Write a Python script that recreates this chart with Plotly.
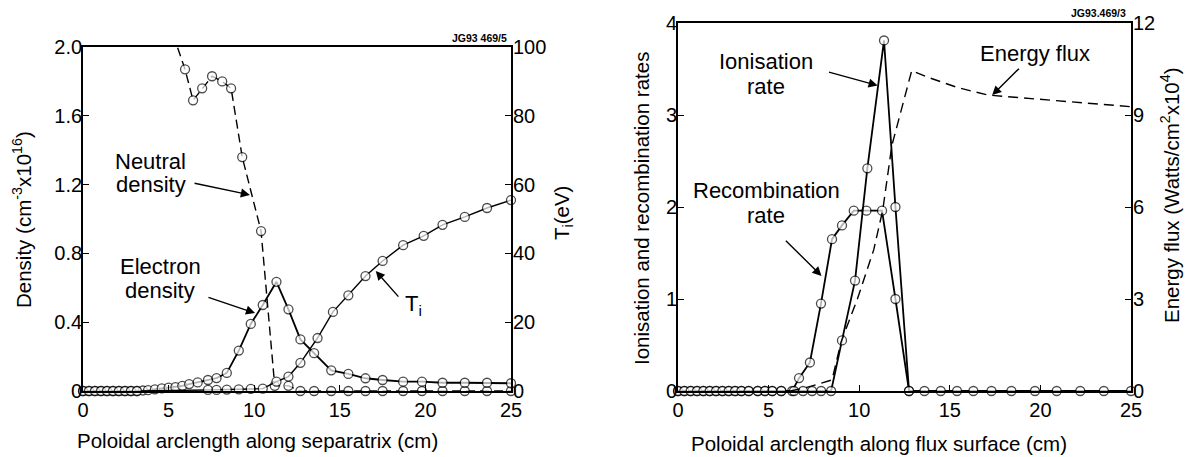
import plotly.graph_objects as go

# ---------------- Left panel data ----------------
ne_x = [0, 0.35, 0.7, 1.05, 1.4, 1.75, 2.1, 2.45, 2.8, 3.15, 3.5, 3.8, 4.2, 4.6, 5.0, 5.4, 5.8, 6.2, 6.7,
        7.3, 7.8, 8.4, 9.1, 9.8, 10.5, 11.3, 12.0, 12.7, 13.5, 14.5, 15.5, 16.5, 17.5, 18.7, 19.8, 21.0,
        22.3, 23.6, 25.0]
ne_y = [0, 0, 0, 0, 0, 0, 0, 0, 0, 0, 0.003, 0.005, 0.01, 0.015, 0.02, 0.022, 0.03, 0.04, 0.05,
        0.064, 0.075, 0.105, 0.235, 0.39, 0.50, 0.635, 0.475, 0.30, 0.22, 0.12, 0.099, 0.074, 0.064,
        0.054, 0.054, 0.048, 0.048, 0.048, 0.045]

nn_x = [5.0, 5.96, 6.43, 6.96, 7.54, 8.13, 8.65, 9.3, 10.4, 11.2, 12.0, 12.7, 13.5, 14.5, 15.5, 16.5,
        17.5, 18.7, 19.8, 21.0, 22.3, 23.6, 25.0]
nn_y = [2.15, 1.87, 1.69, 1.76, 1.83, 1.80, 1.76, 1.36, 0.93, 0.03, 0.03, 0, 0, 0, 0, 0,
        0, 0, 0, 0, 0, 0, 0]

ti_x = [0, 0.35, 0.7, 1.05, 1.4, 1.75, 2.1, 2.45, 2.8, 3.15, 7.3, 7.8, 8.4, 9.1, 9.8, 10.5, 11.3, 12.0,
        12.7, 13.7, 14.6, 15.5, 16.5, 17.5, 18.7, 19.9, 21.0, 22.3, 23.6, 25.0]
ti_y = [0, 0, 0, 0, 0, 0, 0, 0, 0, 0, 0.3, 0.3, 0.4, 0.5, 0.6, 0.7, 2.7, 4.2,
        8.2, 15.4, 23.0, 27.8, 33.4, 37.8, 42.4, 45.1, 48.3, 50.6, 53.2, 55.5]

left_x_ticks = [0, 5, 10, 15, 20, 25]
dens_ticks = [0, 0.4, 0.8, 1.2, 1.6, 2.0]
dens_ticktext = ["0", "0.4", "0.8", "1.2", "1.6", "2.0"]
ti_ticks = [0, 20, 40, 60, 80, 100]

# ---------------- Right panel data ----------------
ion_x = [0, 0.35, 0.7, 1.05, 1.4, 1.75, 2.1, 2.45, 2.8, 3.15, 3.5, 3.9, 4.4, 4.8, 5.2, 5.7,
         6.4, 6.9, 7.4, 7.9, 8.45, 9.05, 9.77, 10.45, 11.37, 12.0, 12.75, 13.6, 14.5, 15.4, 16.3,
         17.3, 18.4, 19.7, 20.9, 22.2, 23.5, 25.0]
ion_y = [0, 0, 0, 0, 0, 0, 0, 0, 0, 0, 0, 0, 0, 0, 0, 0,
         0, 0, 0, 0, 0, 0.55, 1.2, 2.42, 3.81, 2.0, 0, 0, 0, 0, 0,
         0, 0, 0, 0, 0, 0, 0]

rec_x = [0, 0.35, 0.7, 1.05, 1.4, 1.75, 2.1, 2.45, 2.8, 3.15, 3.5, 3.9, 4.4, 4.8, 5.2, 5.7,
         6.3, 6.68, 7.28, 7.89, 8.5, 9.05, 9.7, 10.4, 11.26, 12.0, 12.75]
rec_y = [0, 0, 0, 0, 0, 0, 0, 0, 0, 0, 0, 0, 0, 0, 0, 0,
         0, 0.14, 0.31, 0.95, 1.65, 1.80, 1.96, 1.96, 1.96, 1.0, 0]

en_x = [6.2, 7.0, 7.7, 8.5, 9.0, 9.9, 10.8, 11.3, 11.8, 12.9, 13.7, 15.4, 17.1, 20.4, 25.0]
en_y = [0, 0.1, 0.22, 0.36, 1.6, 3.0, 4.6, 5.9, 8.0, 10.45, 10.25, 9.9, 9.65, 9.5, 9.27]

right_x_ticks = [0, 5, 10, 15, 20, 25]
rate_ticks = [0, 1, 2, 3, 4]
en_ticks = [0, 3, 6, 9, 12]

# ---------------- Figure ----------------
W, H = 1189, 457
ML, MR, MT, MB = 83, 58, 23, 66
PW, PH = W - ML - MR, H - MT - MB


def px(x):
    return (x - ML) / PW


def py(y):
    return (H - MB - y) / PH


FONT = "Liberation Sans, Arial, Helvetica, sans-serif"
LW = 1.8
MS = 9

fig = go.Figure()


def marker_style(n, first_hidden=False):
    sizes = [MS] * n
    if first_hidden:
        sizes[0] = 0
    return dict(symbol="circle", size=sizes, color="white", line=dict(color="black", width=1.3))


fig.add_trace(go.Scatter(x=nn_x, y=nn_y, mode="lines+markers", xaxis="x", yaxis="y",
                         line=dict(color="black", width=1.4, dash="9px,5px"),
                         marker=marker_style(len(nn_x), True), cliponaxis=False))
fig.add_trace(go.Scatter(x=ti_x, y=ti_y, mode="lines+markers", xaxis="x", yaxis="y2",
                         line=dict(color="black", width=1.4),
                         marker=marker_style(len(ti_x)), cliponaxis=False))
fig.add_trace(go.Scatter(x=ne_x, y=ne_y, mode="lines+markers", xaxis="x", yaxis="y",
                         line=dict(color="black", width=LW),
                         marker=marker_style(len(ne_x)), cliponaxis=False))

fig.add_trace(go.Scatter(x=en_x, y=en_y, mode="lines", xaxis="x2", yaxis="y4",
                         line=dict(color="black", width=1.4, dash="10px,6px"), cliponaxis=False))
fig.add_trace(go.Scatter(x=rec_x, y=rec_y, mode="lines+markers", xaxis="x2", yaxis="y3",
                         line=dict(color="black", width=LW),
                         marker=marker_style(len(rec_x)), cliponaxis=False))
fig.add_trace(go.Scatter(x=ion_x, y=ion_y, mode="lines+markers", xaxis="x2", yaxis="y3",
                         line=dict(color="black", width=LW),
                         marker=marker_style(len(ion_x)), cliponaxis=False))

axis_common = dict(showgrid=False, zeroline=False, showline=True, linecolor="black", linewidth=LW,
                   ticks="inside", ticklen=6, tickwidth=1.4, tickcolor="black",
                   tickfont=dict(family=FONT, size=20, color="black"))

left_top = py(47)
fig.update_layout(
    width=W, height=H,
    margin=dict(l=ML, r=MR, t=MT, b=MB, pad=0),
    paper_bgcolor="white", plot_bgcolor="white",
    showlegend=False,
    font=dict(family=FONT, size=20, color="black"),
    xaxis=dict(domain=[0, px(511)], range=[0, 25], tickvals=left_x_ticks, anchor="y",
               mirror=True, **axis_common),
    yaxis=dict(domain=[0, left_top], range=[0, 2.0], tickvals=dens_ticks, ticktext=dens_ticktext,
               anchor="x", ticklabelstandoff=-5, **axis_common),
    yaxis2=dict(overlaying="y", side="right", anchor="x", range=[0, 100], tickvals=ti_ticks,
                ticklabelstandoff=-4, **axis_common),
    xaxis2=dict(domain=[px(678), 1], range=[0, 25], tickvals=right_x_ticks, anchor="y3",
                mirror=True, **axis_common),
    yaxis3=dict(domain=[0, 1], range=[0, 4], tickvals=rate_ticks, anchor="x2",
                ticklabelstandoff=-5, **axis_common),
    yaxis4=dict(overlaying="y3", side="right", anchor="x2", range=[0, 12], tickvals=en_ticks,
                ticklabelstandoff=-4, **axis_common),
)

ann = []
tf = dict(family=FONT, size=20.5, color="black")
lf = dict(family=FONT, size=22, color="black")


def paper_text(text, x, y, angle=0, font=tf):
    ann.append(dict(text=text, xref="paper", yref="paper", x=px(x), y=py(y), textangle=angle,
                    xanchor="center", yanchor="middle", showarrow=False, font=font))


def data_text(text, xr, yr, x, y, font=lf):
    ann.append(dict(text=text, xref=xr, yref=yr, x=x, y=y, xanchor="center", yanchor="middle",
                    showarrow=False, font=font))


# axis titles
paper_text("Density (cm<sup>-3</sup>x10<sup>16</sup>)", 22, 220, -90)
paper_text("T<sub>i</sub>(eV)", 563, 213, -90)
paper_text("Poloidal arclength along separatrix (cm)", 257, 440)
paper_text("Ionisation and recombination rates", 641, 209, -90)
paper_text("Energy flux (Watts/cm<sup>2</sup>x10<sup>4</sup>)", 1170, 195, -90)
paper_text("Poloidal arclength along flux surface (cm)", 879, 443)

# figure codes
ann.append(dict(text="<b>JG93 469/5</b>", xref="paper", yref="paper", x=px(509), y=py(46),
                xanchor="right", yanchor="bottom", showarrow=False,
                font=dict(family=FONT, size=10.5, color="black")))
ann.append(dict(text="<b>JG93.469/3</b>", xref="paper", yref="paper", x=px(1128), y=py(21),
                xanchor="right", yanchor="bottom", showarrow=False,
                font=dict(family=FONT, size=10.5, color="black")))

# text labels (one annotation per line, to keep the tight line spacing)
data_text("Neutral", "x", "y", 3.95, 1.335)
data_text("density", "x", "y", 3.95, 1.20)
data_text("Electron", "x", "y", 4.5, 0.725)
data_text("density", "x", "y", 4.5, 0.585)
data_text("T<sub>i</sub>", "x", "y2", 19.3, 25)
data_text("Ionisation", "x2", "y3", 4.88, 3.58)
data_text("rate", "x2", "y3", 4.88, 3.31)
data_text("Recombination", "x2", "y3", 4.88, 2.18)
data_text("rate", "x2", "y3", 4.88, 1.91)
data_text("Energy flux", "x2", "y4", 19.7, 11.02)

# arrows
arrow = dict(text="", showarrow=True, arrowhead=2, arrowsize=1.3, arrowwidth=1.4,
             arrowcolor="black", standoff=0)
ann.append(dict(xref="x", yref="y", axref="x", ayref="y", x=9.75, y=1.14, ax=6.43, ay=1.21, **arrow))
ann.append(dict(xref="x", yref="y", axref="x", ayref="y", x=10.05, y=0.453, ax=7.24, ay=0.547, **arrow))
ann.append(dict(xref="x", yref="y2", axref="x", ayref="y2", x=17.1, y=34.9, ax=18.5, ay=27.0, **arrow))
ann.append(dict(xref="x2", yref="y3", axref="x2", ayref="y3", x=11.02, y=3.32, ax=8.25, ay=3.47, **arrow))
ann.append(dict(xref="x2", yref="y3", axref="x2", ayref="y3", x=7.92, y=1.25, ax=5.87, ay=1.65, **arrow))
ann.append(dict(xref="x2", yref="y4", axref="x2", ayref="y4", x=17.34, y=9.65, ax=18.9, ay=10.56, **arrow))

fig.update_layout(annotations=ann)

fig.write_html("out.html")
